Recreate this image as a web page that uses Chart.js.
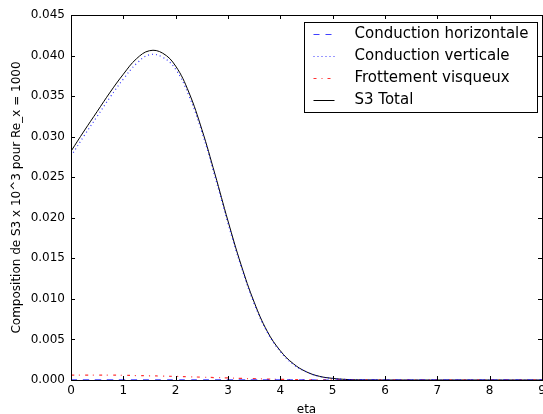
<!DOCTYPE html>
<html>
<head>
<meta charset="utf-8">
<script src="https://cdn.jsdelivr.net/npm/chart.js@4.4.0/dist/chart.umd.min.js"></script>
<style>
  html, body { margin: 0; padding: 0; background: #fff; overflow: hidden; }
  canvas { display: block; }
</style>
</head>
<body>
<canvas id="myChart" width="543" height="414"></canvas>
<script>
// data
let eta = [0, 0.25, 0.5, 0.75, 1, 1.25, 1.5, 1.75, 2, 2.25, 2.5, 2.75, 3, 3.25, 3.5, 3.75, 4, 4.25, 4.5, 4.75, 5, 5.25, 5.5, 5.75, 6, 6.5, 7, 7.5, 8, 8.5, 9];

let condHorizontale = [0.00003, 0.00003, 0.00003, 0.00003, 0.00003, 0.00003, 0.00003, 0.00003, 0.00003, 0.00003, 0.00003, 0.00002, 0.00002, 0.00002, 0.00002, 0.00001, 0.00001, 0.00001, 0.00001, 0, 0, 0, 0, 0, 0, 0, 0, 0, 0, 0, 0];
let condVerticale = [0.0276, 0.0301, 0.0325, 0.0349, 0.0371, 0.0390, 0.0401, 0.0398, 0.0383, 0.0351, 0.0306, 0.0251, 0.0193, 0.0140, 0.0094, 0.0059, 0.0035, 0.0019, 0.0010, 0.00043, 0.0002, 0.00007, 0.00002, 0.00001, 0, 0, 0, 0, 0, 0, 0];
let frottement = [0.0006, 0.0006, 0.0006, 0.0006, 0.00058, 0.00055, 0.00052, 0.00048, 0.00044, 0.0004, 0.00035, 0.0003, 0.00026, 0.0002, 0.00016, 0.00012, 0.00008, 0.00005, 0.00003, 0.00002, 0.00001, 0, 0, 0, 0, 0, 0, 0, 0, 0, 0];
let s3Total = [0.0282, 0.0307, 0.0331, 0.0355, 0.0377, 0.0396, 0.0406, 0.0403, 0.0387, 0.0355, 0.0309, 0.0254, 0.0196, 0.0142, 0.0096, 0.0060, 0.0036, 0.0020, 0.0010, 0.00045, 0.0002, 0.00007, 0.00002, 0.00001, 0, 0, 0, 0, 0, 0, 0];

let labels = ['Conduction horizontale', 'Conduction verticale', 'Frottement visqueux', 'S3 Total'];
let yTicks = [0, 0.005, 0.010, 0.015, 0.020, 0.025, 0.030, 0.035, 0.040, 0.045];

function pts(vals) {
    return eta.map((x, i) => ({ x: x, y: vals[i] }));
}

const FONT = 'DejaVu Sans';

// inward ticks on all four sides + frame
const frame = {
    id: 'frame',
    afterDatasetsDraw(chart) {
        const ctx = chart.ctx, a = chart.chartArea;
        const xs = chart.scales.x, ys = chart.scales.y;
        ctx.save();
        ctx.strokeStyle = '#000';
        ctx.lineWidth = 1;
        ctx.beginPath();
        xs.ticks.forEach(t => {
            let px = Math.round(xs.getPixelForValue(t.value)) + 0.5;
            ctx.moveTo(px, a.bottom); ctx.lineTo(px, a.bottom - 4);
            ctx.moveTo(px, a.top); ctx.lineTo(px, a.top + 4);
        });
        ys.ticks.forEach(t => {
            let py = Math.round(ys.getPixelForValue(t.value)) + 0.5;
            ctx.moveTo(a.left, py); ctx.lineTo(a.left + 4, py);
            ctx.moveTo(a.right, py); ctx.lineTo(a.right - 4, py);
        });
        ctx.stroke();
        ctx.strokeRect(Math.round(a.left) + 0.5, Math.round(a.top) + 0.5, Math.round(a.right - a.left), Math.round(a.bottom - a.top));
        ctx.restore();
    }
};

// matplotlib-like legend box
const boxLegend = {
    id: 'boxLegend',
    afterDraw(chart) {
        const ctx = chart.ctx, a = chart.chartArea;
        ctx.save();
        ctx.font = '15px "' + FONT + '"';
        let maxW = 0;
        chart.data.datasets.forEach(d => { maxW = Math.max(maxW, ctx.measureText(d.label).width); });
        let w = Math.round(50 + maxW + 9);
        let h = 90;
        let x0 = Math.round(a.right - 5 - w) + 0.5, y0 = Math.round(a.top + 7) + 0.5;
        ctx.fillStyle = '#fff';
        ctx.fillRect(x0, y0, w, h);
        ctx.strokeStyle = '#000';
        ctx.lineWidth = 1;
        ctx.strokeRect(x0, y0, w, h);
        chart.data.datasets.forEach((d, i) => {
            let cy = Math.round(y0 + 11 + i * 22.3) + 0.5;
            ctx.beginPath();
            ctx.strokeStyle = d.borderColor;
            ctx.lineWidth = d.borderWidth;
            ctx.setLineDash(d.borderDash || []);
            ctx.moveTo(x0 + 9, cy);
            ctx.lineTo(x0 + 30, cy);
            ctx.stroke();
            ctx.setLineDash([]);
            ctx.fillStyle = '#000';
            ctx.textBaseline = 'middle';
            ctx.fillText(d.label, x0 + 50, cy);
        });
        ctx.restore();
    }
};

let ctx = document.getElementById('myChart').getContext('2d');

let chart = new Chart(ctx, {
    type: 'line',
    data: {
        datasets: [{
            label: labels[0],
            data: pts(condHorizontale),
            borderColor: 'rgba(0,0,255,0.75)',
            borderWidth: 1.2,
            borderDash: [6, 6]
        }, {
            label: labels[1],
            data: pts(condVerticale),
            borderColor: 'rgba(0,0,255,0.8)',
            borderWidth: 1.2,
            borderDash: [1, 3]
        }, {
            label: labels[2],
            data: pts(frottement),
            borderColor: 'rgba(255,0,0,0.8)',
            borderWidth: 1.2,
            borderDash: [3, 5, 1, 5]
        }, {
            label: labels[3],
            data: pts(s3Total),
            borderColor: '#000',
            borderWidth: 1
        }]
    },
    options: {
        responsive: false,
        animation: false,
        elements: { point: { radius: 0 }, line: { tension: 0.4 } },
        layout: { padding: { top: 15, right: 1, left: 0, bottom: 0 } },
        plugins: { legend: { display: false }, tooltip: { enabled: false } },
        scales: {
            x: {
                type: 'linear',
                min: 0,
                max: 9,
                grid: { display: false, drawTicks: false },
                border: { display: false },
                ticks: { stepSize: 1, color: '#000', padding: 4, maxRotation: 0, font: { family: FONT, size: 12 } },
                title: { display: true, text: 'eta', color: '#000', padding: { top: -3, bottom: -3 }, font: { family: FONT, size: 12 } },
                afterFit(s) { s.height = 34; s.paddingLeft = 0; s.paddingRight = 0; }
            },
            y: {
                min: 0,
                max: 0.045,
                grid: { display: false, drawTicks: false },
                border: { display: false },
                afterBuildTicks(s) { s.ticks = yTicks.map(v => ({ value: v })); },
                ticks: { color: '#000', padding: 6, font: { family: FONT, size: 12 }, callback: v => v.toFixed(3) },
                title: { display: true, text: 'Composition de S3 x 10^3 pour Re_x = 1000', color: '#000', padding: { top: 10, bottom: 0 }, font: { family: FONT, size: 12 } },
                afterFit(s) { s.width = 71; }
            }
        }
    },
    plugins: [frame, boxLegend]
});
</script>
</body>
</html>
